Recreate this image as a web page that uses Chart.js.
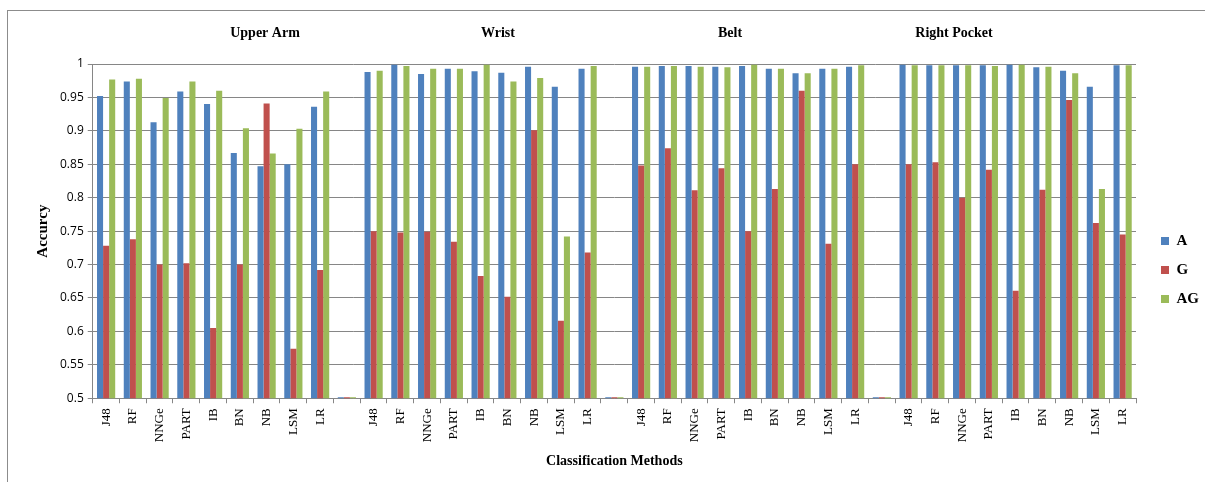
<!DOCTYPE html>
<html>
<head>
<meta charset="utf-8">
<script src="https://cdn.jsdelivr.net/npm/chart.js@4/dist/chart.umd.min.js"></script>
<style>
  body { margin: 0; background: #fff; }
</style>
</head>
<body>
<canvas id="chart" width="1205" height="482"></canvas>
<script>
// categories: 4 sensor positions x 9 methods, blank slot between groups
var methods = ["J48", "RF", "NNGe", "PART", "IB", "BN", "NB", "LSM", "LR"];
var groups = ["Upper Arm", "Wrist", "Belt", "Right Pocket"];
var labels = [].concat(methods, [""], methods, [""], methods, [""], methods);

// values (blank slot has a tiny stub at the baseline)
var seriesA = [0.952, 0.974, 0.913, 0.959, 0.940, 0.867, 0.847, 0.850, 0.936, 0.5015,
               0.988, 0.999, 0.985, 0.993, 0.989, 0.987, 0.996, 0.966, 0.993, 0.5015,
               0.996, 0.997, 0.997, 0.996, 0.997, 0.993, 0.986, 0.993, 0.996, 0.5015,
               0.999, 0.998, 0.998, 0.998, 0.999, 0.995, 0.990, 0.966, 0.998];
var seriesG = [0.728, 0.738, 0.700, 0.702, 0.605, 0.700, 0.941, 0.574, 0.692, 0.5015,
               0.750, 0.748, 0.749, 0.734, 0.683, 0.652, 0.901, 0.616, 0.718, 0.5015,
               0.848, 0.874, 0.811, 0.844, 0.750, 0.813, 0.960, 0.731, 0.850, 0.5015,
               0.850, 0.853, 0.800, 0.842, 0.661, 0.812, 0.946, 0.762, 0.745];
var seriesAG = [0.977, 0.978, 0.949, 0.974, 0.960, 0.904, 0.866, 0.903, 0.959, 0.5015,
                0.990, 0.997, 0.993, 0.993, 0.999, 0.974, 0.979, 0.742, 0.997, 0.5015,
                0.996, 0.997, 0.996, 0.995, 0.999, 0.993, 0.986, 0.993, 0.998, 0.5015,
                0.998, 0.998, 0.998, 0.997, 0.999, 0.996, 0.986, 0.813, 0.998];

var serif = "'Liberation Serif', 'Times New Roman', serif";
var sans = "'Open Sans', 'Liberation Sans', sans-serif";

// group captions + outer frame, legend nudged right like the original
var extras = {
    id: 'extras',
    afterLayout: function(chart) {
        chart.legend.left += 11;
        chart.legend.right += 11;
        chart.legend.top += 1;
        chart.legend.bottom += 1;
    },
    beforeDraw: function(chart) {
        var ctx = chart.ctx;
        ctx.save();
        ctx.fillStyle = '#fff';
        ctx.fillRect(0, 0, chart.width, chart.height);
        ctx.strokeStyle = '#8c8c8c';
        ctx.lineWidth = 1;
        ctx.strokeRect(7.5, 10.5, chart.width + 10, chart.height + 10);
        ctx.restore();
    },
    afterDraw: function(chart) {
        var ctx = chart.ctx;
        var pos = [265, 498, 730, 954];
        ctx.save();
        ctx.font = "bold 14px " + serif;
        ctx.fillStyle = '#000';
        ctx.textAlign = 'center';
        ctx.textBaseline = 'middle';
        for (var i = 0; i < groups.length; i++) {
            ctx.fillText(groups[i], pos[i], 33);
        }
        ctx.restore();
    }
};

var myChart = document.getElementById('chart').getContext('2d');
var chart = new Chart(myChart, {
    type: 'bar',
    data: {
        labels: labels,
        datasets: [
            { label: 'A', data: seriesA, backgroundColor: '#4F81BD' },
            { label: 'G', data: seriesG, backgroundColor: '#C0504D' },
            { label: 'AG', data: seriesAG, backgroundColor: '#9BBB59' }
        ]
    },
    options: {
        responsive: false,
        animation: false,
        categoryPercentage: 0.68,
        barPercentage: 1.0,
        layout: { padding: { left: 30, right: 7, top: 64, bottom: 8 } },
        plugins: {
            legend: {
                position: 'right',
                labels: {
                    boxWidth: 8,
                    boxHeight: 8,
                    padding: 14,
                    color: '#000',
                    font: { family: serif, size: 15, weight: 'bold' }
                }
            },
            tooltip: { enabled: false }
        },
        scales: {
            x: {
                grid: {
                    offset: true,
                    drawOnChartArea: false,
                    tickLength: 5,
                    color: '#868686'
                },
                border: { color: '#868686' },
                ticks: {
                    autoSkip: false,
                    maxRotation: 90,
                    minRotation: 90,
                    padding: 5,
                    color: '#000',
                    font: { family: serif, size: 13 }
                },
                title: {
                    display: true,
                    text: 'Classification Methods',
                    color: '#000',
                    font: { family: serif, size: 14, weight: 'bold' },
                    padding: { top: 6 }
                }
            },
            y: {
                min: 0.5,
                max: 1,
                ticks: {
                    stepSize: 0.05,
                    padding: 4,
                    color: '#000',
                    font: { family: sans, size: 12 },
                    callback: function(v) { return parseFloat(v.toFixed(2)); }
                },
                grid: { color: '#868686', tickLength: 5 },
                border: { color: '#868686' },
                title: {
                    display: true,
                    text: 'Accurcy',
                    color: '#000',
                    font: { family: serif, size: 15, weight: 'bold' }
                }
            }
        }
    },
    plugins: [extras]
});
</script>
</body>
</html>
